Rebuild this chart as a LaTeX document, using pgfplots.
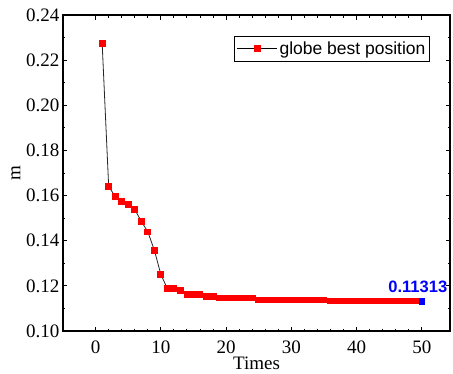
\documentclass[border=0pt]{standalone}
\usepackage{fontspec}
\setmainfont{Liberation Serif}
\newfontfamily\arialfont{Liberation Sans}
\newfontfamily\timesfont{Liberation Serif}
\usepackage{pgfplots}
\pgfplotsset{compat=1.18}
\begin{document}
\begin{tikzpicture}
\begin{axis}[
  scale only axis,
  width=387pt, height=316pt,
  xmin=-5, xmax=54.3,
  ymin=0.10, ymax=0.24,
  xtick={0,10,20,30,40,50},
  xticklabels={0,10,20,30,40,50},
  minor x tick num=4,
  ytick={0.10,0.12,0.14,0.16,0.18,0.20,0.22,0.24},
  yticklabels={0.10,0.12,0.14,0.16,0.18,0.20,0.22,0.24},
  minor y tick num=1,
  tick align=inside,
  major tick length=4.5pt,
  minor tick length=2.5pt,
  every tick/.style={black, line width=1pt},
  axis line style={line width=1.5pt},
  ticklabel style={font=\timesfont\fontsize{19}{21}\selectfont},
  xticklabel style={yshift=-6pt},
  xlabel={Times}, ylabel={m},
  label style={font=\timesfont\fontsize{19}{21}\selectfont},
  xlabel style={yshift=3pt},
  ylabel style={yshift=-1pt},
  legend style={at={(0.948,0.934)}, anchor=north east, draw=black, line width=0.8pt,
    font=\arialfont\fontsize{17.5}{19}\selectfont, inner xsep=2pt, inner ysep=3.5pt, row sep=0pt},
  legend cell align=left,
  legend image code/.code={
    \draw[black, line width=0.8pt] (0pt,0pt) -- (40pt,0pt);
    \fill[red] (17pt,-3pt) rectangle (23pt,3pt);
  },
]
\addplot[black!85, line width=0.8pt, mark=square*, mark size=2.9pt,
  mark options={fill=red, draw=red, line width=0pt}] coordinates {
(1,0.2275) (2,0.1639) (3,0.1597) (4,0.1572) (5,0.1562) (6,0.1538) (7,0.1486)
(8,0.1439) (9,0.1358) (10,0.1250) (11,0.1188) (12,0.1188) (13,0.1180)
(14,0.1162) (15,0.1162) (16,0.1162) (17,0.1153) (18,0.1153)
(19,0.1146) (20,0.1146) (21,0.1146) (22,0.1146) (23,0.1146) (24,0.1146)
(25,0.1137) (26,0.1137) (27,0.1137) (28,0.1137) (29,0.1137) (30,0.1137)
(31,0.1137) (32,0.1137) (33,0.1137) (34,0.1137) (35,0.1137)
(36,0.1133) (37,0.1133) (38,0.1133) (39,0.1133) (40,0.1133) (41,0.1133)
(42,0.1133) (43,0.1133) (44,0.1133) (45,0.1133) (46,0.1133) (47,0.1133)
(48,0.1133) (49,0.1133) (50,0.11313)
};
\addlegendentry{globe best position}
\addplot[only marks, mark=square*, mark size=2.9pt,
  mark options={fill=blue, draw=blue, line width=0pt}, forget plot] coordinates {(50,0.11313)};
\node[anchor=south east, inner sep=0pt, text=blue, font=\arialfont\bfseries\fontsize{16.5}{18}\selectfont]
  at (axis cs:53.9,0.11313) [yshift=8pt] {0.11313};
\end{axis}
\pgfresetboundingbox
\path (-63pt,-42pt) rectangle (390pt,331pt);
\end{tikzpicture}
\end{document}
